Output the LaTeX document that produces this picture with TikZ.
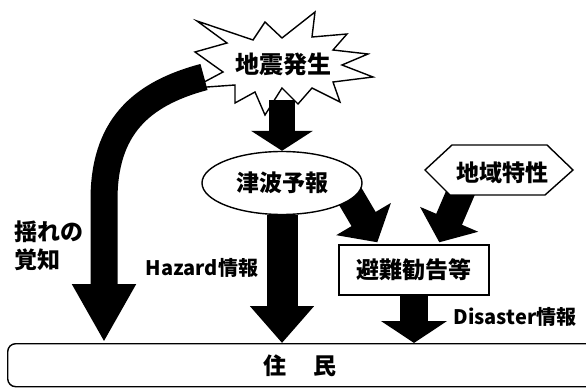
\documentclass[tikz,border=0pt]{standalone}
\usepackage{fontspec}
\setmainfont{Noto Sans CJK JP}
\usetikzlibrary{arrows.meta,shapes.geometric,calc}
\pgfdeclarelayer{bg}
\pgfdeclarelayer{fg}
\pgfsetlayers{bg,main,fg}
\begin{document}
\begin{tikzpicture}[x=1pt,y=-1pt,
  jp/.style={font=\bfseries\fontsize{23}{28}\selectfont, inner sep=0pt},
  lat/.style={font=\bfseries\fontsize{20}{20}\selectfont, inner sep=0pt},
  outl/.style={draw=black, line width=1.4pt, fill=white},
  fat/.style={draw=black, line width=#1},
]
\useasboundingbox (0,0) rectangle (586,390);

% starburst (background)
\begin{pgfonlayer}{bg}
\draw[outl, line join=miter] (197,21) -- (253,40) -- (265,22) -- (282,38) -- (315,12) -- (312,37)
  -- (347,34) -- (333,50) -- (368,54) -- (342,65) -- (373,77) -- (333,82)
  -- (340,102) -- (312,88) -- (298,104) -- (282,88) -- (265,115) -- (255,92)
  -- (235,103) -- (235,85) -- (193,88) -- (223,72) -- (195,52) -- (227,43) -- cycle;
\node[jp, font=\bfseries\fontsize{24}{24}\selectfont] (quake) at (283,64) {地震発生};
\end{pgfonlayer}

% foreground boxes
\begin{pgfonlayer}{fg}
\node[outl, ellipse, minimum width=160pt, minimum height=63pt, inner sep=0pt, jp] (tsunami) at (282,183) {津波予報};
\node[minimum width=148pt, minimum height=50pt, inner sep=0pt] (region) at (499,170) {};
\draw[outl] (425,170) -- (452,145) -- (547,145) -- (573,170) -- (545,195) -- (450,195) -- cycle;
\node[jp] at (502,173) {地域特性};
\node[outl, minimum width=150pt, minimum height=50pt, inner sep=0pt, jp] (evac) at (414,270) {避難勧告等};
\end{pgfonlayer}

% residents
\node[draw, line width=1.4pt, rounded corners=8pt, minimum width=600pt, minimum height=43pt,
  anchor=north west, inner sep=0pt] (res) at (7,343) {};
\node[jp] (restext) at (300,366) {住\hspace{28pt}民};

% free ends
\coordinate (q1) at (282,100);
\coordinate (q2) at (204,77);
\coordinate (c3) at (104,342);
\coordinate (e1) at ($(evac.north west)+(39,-2)$);
\coordinate (e2) at ($(evac.north west)+(101,-2)$);
\coordinate (r1) at ($(region.south)+(-37,-6)$);

% arrows
\draw[fat=26pt, -{Triangle[width=61pt,length=20pt]}] (q1) -- (tsunami.north);
\draw[fat=27pt, -{Triangle[width=60pt,length=58pt]}] (q2) .. controls (140,94) and (104,128) .. (104,200) -- (c3);
\draw[fat=31pt, -{Triangle[width=62pt,length=37pt]}] (tsunami.south) -- (tsunami.south |- res.north);
\draw[fat=28pt, -{Triangle[width=62pt,length=27pt]}, shorten <=-6pt] (tsunami.-13) -- (e1);
\draw[fat=28pt, -{Triangle[width=62pt,length=25pt]}] (r1) -- (e2);
\draw[fat=28pt, -{Triangle[width=65pt,length=22pt]}] (evac.south) -- (evac.south |- res.north);

% labels
\node[jp, align=left, anchor=north west] (shake) at (14,221) {揺れの\\覚知};
\node[lat] (hazard) at (202,268) {Hazard情報};
\node[lat] (disaster) at (515,317) {Disaster情報};
\end{tikzpicture}
\end{document}
